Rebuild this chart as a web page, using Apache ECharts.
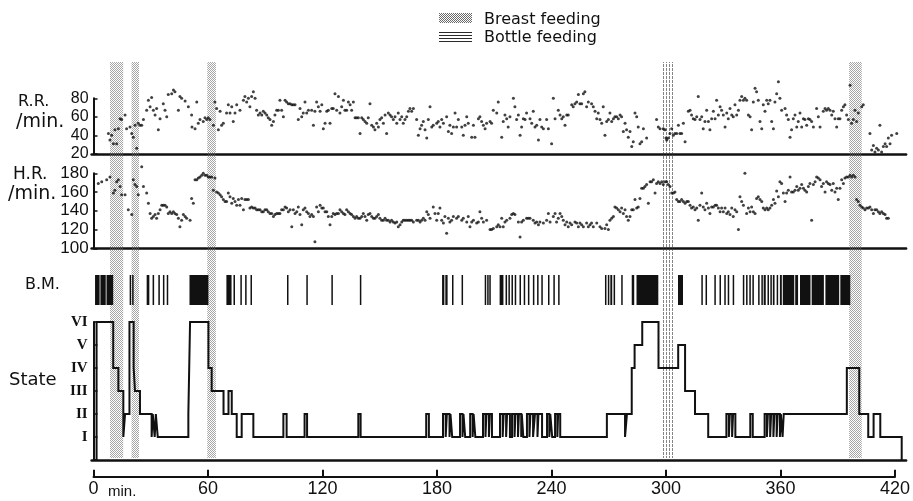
<!DOCTYPE html>
<html><head><meta charset="utf-8">
<script src="https://cdn.jsdelivr.net/npm/echarts@6/dist/echarts.min.js"></script>
<style>html,body{margin:0;padding:0;background:#fff}#c{width:913px;height:501px}</style>
</head><body><div id="c"></div>
<script>
// ---------- DATA ----------
const xTicks = [0, 60, 120, 180, 240, 300, 360, 420];
const stateLabels = ['', 'I', 'II', 'III', 'IV', 'V', 'VI'];
const breastBands = [[8.6,15.5],[19.9,23.8],[59.5,64.0],[395.2,401.8]];
const bottleBands = [[296.8,303.3]];

const rr = [
[7.8,42],[8.6,35],[9.5,40],[10.4,31],[11.2,46],[12.1,31],[13.0,47],[13.9,58],[14.7,57],[16.5,62],[17.3,47],[19.1,49],[20.0,42],[20.8,38],[21.7,51],[22.6,26],[23.4,53],[24.3,51],[25.2,51],[26.1,57],[27.8,67],[28.7,78],[29.6,71],[30.4,81],[31.3,67],[32.2,62],[33.0,69],[33.9,46],[34.8,58],[36.5,74],[37.4,67],[38.3,60],[39.1,84],[40.9,85],[41.8,89],[42.6,87],[44.4,67],[45.2,82],[46.1,80],[47.9,77],[49.6,71],[51.3,62],[51.5,49],[53.1,47],[54.0,76],[54.8,53],[55.7,57],[57.4,55],[58.3,59],[59.2,57],[60.0,59],[60.9,57],[62.7,51],[63.5,76],[64.4,69],[65.3,46],[66.2,66],[67.0,51],[67.9,53],[69.6,64],[70.5,73],[71.4,64],[72.3,71],[73.1,55],[74.0,64],[74.9,73],[76.6,67],[78.4,78],[79.2,82],[80.1,76],[81.0,80],[81.8,71],[82.7,82],[83.6,87],[84.5,80],[85.3,67],[86.2,62],[87.1,64],[88.0,62],[88.8,66],[89.7,64],[90.6,62],[91.4,59],[92.3,57],[93.2,51],[94.1,55],[94.9,62],[95.8,67],[96.7,67],[97.5,78],[98.4,67],[99.3,60],[100.2,78],[101.0,76],[101.9,74],[102.8,74],[103.7,73],[104.5,73],[105.4,73],[107.1,57],[108.0,69],[108.9,60],[109.7,64],[110.6,76],[111.5,64],[112.4,67],[114.1,67],[115.0,51],[115.8,66],[116.7,76],[117.6,71],[118.5,66],[119.4,73],[120.2,47],[121.1,53],[122.0,66],[122.8,67],[123.7,53],[124.6,69],[125.4,69],[126.3,85],[127.2,67],[128.1,82],[128.9,64],[129.8,71],[130.7,78],[131.5,67],[132.4,67],[133.3,76],[134.2,73],[135.0,67],[135.9,76],[136.8,59],[137.6,59],[138.5,59],[139.4,42],[140.3,59],[141.1,57],[142.0,55],[142.9,53],[143.7,59],[144.6,74],[145.5,51],[146.4,49],[147.2,46],[148.1,53],[149.0,49],[149.8,57],[150.7,59],[151.6,53],[152.5,62],[153.3,42],[154.2,64],[155.1,62],[155.9,60],[156.8,57],[157.7,60],[158.6,53],[159.4,64],[160.3,57],[161.2,60],[162.0,53],[162.9,57],[163.8,60],[164.7,66],[165.5,69],[166.4,66],[167.3,69],[169.0,57],[169.9,40],[170.8,47],[171.6,51],[172.5,55],[173.4,46],[174.3,37],[175.1,57],[176.0,71],[176.9,49],[177.7,51],[179.5,53],[180.3,55],[181.2,49],[182.1,57],[183.0,53],[184.7,60],[185.6,44],[186.4,51],[187.3,42],[188.2,49],[189.1,64],[189.9,49],[190.8,57],
[192.6,49],[193.4,40],[194.3,51],[195.2,60],[196.0,53],[197.8,38],[198.7,51],[199.5,38],[201.3,58],[202.1,60],[203.0,55],[203.9,51],[204.8,47],[205.6,53],[207.4,55],[208.2,53],[209.1,67],[210.9,64],[211.7,76],[213.5,38],[214.3,55],[215.2,62],[216.1,58],[216.9,49],[217.8,60],[219.6,80],[220.4,71],[221.3,57],[222.2,62],[223.1,40],[223.9,49],[224.8,58],[225.7,57],[226.5,64],[228.3,58],[229.2,53],[230.0,66],[230.9,49],[231.8,51],[232.7,35],[233.5,57],[234.4,49],[235.3,47],[237.0,57],[237.9,47],[239.6,31],[240.5,80],[241.4,58],[243.1,67],[244.0,62],[244.9,58],[245.7,60],[246.6,51],[247.5,62],[248.3,62],[250.1,73],[250.9,71],[251.8,74],[252.7,76],[253.6,84],[254.4,74],[255.3,74],[256.2,85],[257.0,87],[257.9,71],[258.8,76],[260.5,74],[261.4,71],[262.3,66],[263.2,58],[264.0,64],[264.9,57],[265.8,53],[266.6,71],[267.5,40],[268.4,55],[269.3,57],[270.1,64],[271.0,55],[271.9,58],[272.7,60],[273.6,60],[274.5,58],[275.4,62],[276.2,60],[277.1,44],[278.0,53],[278.8,46],[279.7,38],[280.6,44],[281.5,28],[282.3,33],[283.2,64],[284.1,60],[284.9,49],[285.8,31],[286.7,33],[287.6,47],[289.3,37],[294.5,57],[295.4,49],[296.3,47],[298.0,47],[298.9,46],[299.4,37],[299.8,35],[300.6,37],[301.5,42],[302.4,47],[303.3,40],[304.1,42],[305.0,42],[305.9,51],[306.7,42],[307.6,42],[308.5,53],[309.4,33],[311.1,66],[312.0,67],[312.8,62],[313.7,58],[314.6,57],[315.5,60],[316.3,82],[317.2,57],[318.1,60],[318.9,47],[319.8,55],[320.7,67],[321.6,55],[322.4,46],[323.3,58],[324.2,66],[325.1,58],[325.9,78],[326.8,62],[327.7,71],[328.5,67],[329.4,62],[330.3,49],[331.2,64],[332.0,58],[332.9,69],[333.8,62],[334.6,60],[335.5,73],[336.4,62],[337.3,67],[338.1,78],[339.0,82],[339.9,78],[340.7,80],[341.6,78],[342.5,62],[343.4,60],[344.2,46],[345.1,76],[346.0,91],[346.8,87],[347.7,78],[348.6,55],[349.5,47],[350.3,73],[351.2,66],[352.1,78],[352.9,74],[353.8,78],[354.7,55],[355.6,47],[356.4,76],[357.3,85],[358.2,98],[359.0,80],[359.9,67],[361.7,69],[362.5,62],[363.4,57],[364.3,38],[365.1,46],[366.0,58],[366.9,62],[367.8,49],[368.6,55],[369.5,64],[370.4,49],[371.3,58],[372.1,57],[373.0,51],[373.9,58],[374.7,57],[375.6,55],[376.5,49],[378.2,69],[379.1,60],[380.0,49],[381.7,66],[382.6,69],[383.4,67],[384.3,69],[385.2,67],[386.1,62],[386.9,66],[387.8,58],[388.7,49],[389.5,58],[390.4,58],[391.3,67],[392.2,71],[393.0,73],[393.9,62],[394.8,57],[395.7,94],[396.5,53],[397.4,57],[398.3,67],[399.1,55],[400.0,64],[401.8,71],[402.6,73],[406.1,42],[407.0,24],[407.9,29],[408.7,22],[409.6,26],[410.5,24],[411.3,51],[412.2,22],[413.1,28],[414.0,31],[414.8,28],[415.7,37],[416.6,31],[417.4,40],[420.1,42]
];

const hr = [
[2.5,169],[4.3,171],[6.9,173],[8.6,176],[10.4,159],[11.2,162],[12.1,171],[13.0,173],[13.9,166],[14.7,157],[16.5,157],[18.2,141],[20.0,136],[20.8,173],[21.7,168],[22.6,166],[23.4,157],[25.2,187],[26.1,166],[27.8,159],[28.7,148],[29.6,137],[30.4,132],[31.3,134],[32.2,136],[33.0,132],[33.9,137],[34.8,141],[35.7,146],[36.5,146],[37.4,146],[38.3,144],[39.1,137],[40.0,139],[40.9,137],[41.8,139],[42.6,137],[43.5,136],[44.4,132],[45.2,123],[46.1,130],[47.0,136],[47.9,134],[48.7,132],[50.5,130],[51.3,153],[52.2,148],[53.1,173],[54.0,173],[54.8,175],[55.7,176],[56.6,178],[57.4,180],[58.3,178],[59.2,178],[60.0,176],[60.9,176],[61.8,176],[62.7,162],[63.5,175],[64.4,160],[65.3,159],[66.2,157],[67.0,155],[67.9,152],[68.8,150],[69.6,150],[70.5,159],[71.4,155],[72.3,148],[73.1,153],[74.0,150],[74.9,146],[75.8,152],[76.6,146],[77.5,153],[78.4,141],[79.2,152],[80.1,152],[81.0,152],[81.8,143],[82.7,144],[83.6,143],[84.5,143],[85.3,141],[86.2,141],[87.1,141],[88.0,139],[88.8,139],[89.7,141],[90.6,141],[91.4,139],[92.3,137],[93.2,137],[94.1,134],[94.9,136],[95.8,137],[96.7,137],[97.5,137],[98.4,141],[99.3,141],[100.2,144],[101.0,143],[101.9,139],[102.8,141],[103.7,123],[104.5,141],[105.4,137],[106.3,139],[107.1,144],[108.0,136],[108.9,125],[109.7,141],[110.6,143],[111.5,139],[112.4,137],[113.2,134],[114.1,136],[115.0,134],[115.8,107],[116.7,144],[117.6,139],[118.5,146],[119.4,143],[120.2,143],[121.1,139],[122.0,139],[122.8,134],[123.7,125],[124.6,134],[125.4,137],[126.3,136],[127.2,137],[128.1,137],[128.9,141],[129.8,139],[130.7,137],[131.5,136],[132.4,141],[133.3,139],[134.2,137],[135.0,136],[135.9,134],[136.8,132],[137.6,134],[138.5,132],[139.4,132],[140.3,134],[141.1,137],[142.0,134],[142.9,130],[143.7,136],[144.6,137],[145.5,134],[146.4,132],[147.2,132],[148.1,134],[149.0,136],[149.8,132],[150.7,130],[151.6,130],[152.5,132],[153.3,130],[154.2,130],[155.1,128],[155.9,130],[156.8,128],[157.7,127],[158.6,128],[159.4,123],[160.3,125],[161.2,128],[162.0,130],[162.9,130],[163.8,130],[164.7,130],[165.5,130],[166.4,130],[167.3,128],[169.0,130],[169.9,130],[170.8,128],[171.6,130],[172.5,132],[173.4,130],[174.3,139],[175.1,136],[176.0,132],[177.7,144],[178.6,137],[179.5,130],[180.3,137],[181.2,143],[182.1,130],[183.0,127],[183.8,134],[184.7,116],[185.6,132],[186.4,128],[187.3,130],[188.2,134],[189.9,132],[190.8,134],
[192.6,130],[193.4,132],[195.2,128],[196.0,134],[196.9,123],[197.8,128],[198.7,130],[200.4,127],[201.3,128],[202.1,139],[203.0,132],[203.9,128],[205.6,130],[207.4,120],[208.2,120],[209.1,121],[210.9,123],[211.7,125],[212.6,123],[213.5,132],[214.3,123],[215.2,128],[216.1,130],[217.8,132],[218.7,136],[219.6,137],[220.4,136],[222.2,128],[223.1,112],[223.9,128],[224.8,130],[226.5,132],[227.4,132],[228.3,132],[230.0,130],[230.9,127],[231.8,128],[232.7,125],[233.5,128],[235.3,127],[237.0,130],[237.9,137],[238.8,128],[240.5,134],[241.4,137],[242.2,128],[243.1,132],[244.0,137],[244.9,134],[245.7,130],[246.6,125],[247.5,128],[248.3,123],[249.2,127],[250.1,125],[251.8,128],[252.7,127],[253.6,123],[254.4,127],[255.3,125],[256.2,123],[257.9,127],[258.8,123],[259.7,125],[260.5,127],[261.4,123],[263.2,127],[264.9,123],[265.8,121],[267.5,121],[268.4,125],[269.3,120],[270.1,130],[271.0,132],[271.9,134],[272.7,144],[273.6,143],[274.5,141],[275.4,139],[276.2,143],[277.1,137],[278.0,141],[278.8,134],[279.7,130],[280.6,134],[281.5,141],[282.3,141],[283.2,152],[284.1,143],[284.9,144],[285.8,153],[286.7,164],[287.6,164],[288.4,166],[289.3,168],[290.2,148],[291.1,171],[291.9,171],[292.8,173],[293.7,159],[294.5,169],[295.4,171],[296.3,169],[297.2,171],[298.0,168],[298.9,171],[299.8,171],[300.6,168],[301.5,166],[302.4,159],[303.3,159],[304.1,160],[305.0,152],[305.9,150],[306.7,150],[307.6,152],[308.5,150],[309.4,148],[310.3,150],[311.1,150],[312.0,146],[312.8,143],[313.7,144],[314.6,141],[315.5,143],[316.3,130],[317.2,146],[318.1,159],[318.9,144],[319.8,141],[320.7,148],[321.6,143],[322.4,137],[323.3,144],[324.2,144],[325.1,146],[325.9,146],[326.8,143],[327.7,139],[328.5,143],[329.4,139],[330.3,143],[331.2,137],[332.0,139],[332.9,136],[333.8,143],[334.6,134],[335.5,141],[336.4,139],[337.3,120],[338.1,155],[339.0,150],[339.9,146],[340.7,180],[341.6,137],[342.5,143],[343.4,139],[344.2,144],[345.1,139],[346.0,137],[346.8,153],[347.7,155],[348.6,152],[349.5,150],[350.3,143],[351.2,141],[352.1,143],[352.9,141],[353.8,143],[354.7,146],[355.6,152],[356.4,148],[357.3,161],[358.2,155],[359.0,171],[359.9,169],[360.8,159],[361.7,150],[362.5,159],[363.4,162],[364.3,176],[365.1,160],[366.0,160],[366.9,162],[367.8,166],[368.6,162],[369.5,164],[370.4,168],[371.3,164],[372.1,162],[373.0,160],[373.9,166],[374.7,169],[375.6,130],[376.5,168],[377.4,171],[378.2,176],[379.1,175],[380.0,173],[380.8,166],[381.7,169],[382.6,160],[383.4,171],[384.3,169],[385.2,168],[386.1,162],[386.9,169],[387.8,160],[388.7,164],[389.5,152],[390.4,164],[391.3,173],[392.2,169],[393.0,175],[393.9,176],[394.8,176],[395.7,178],[396.5,176],[397.4,178],[398.3,176],[399.1,152],[400.0,150],[400.9,146],[401.8,144],[402.6,143],[403.5,141],[404.4,143],[405.3,143],[406.1,144],[407.0,141],[407.9,137],[408.7,141],[409.6,141],[410.5,139],[411.3,137],[412.2,139],[413.1,137],[414.0,136],[414.8,132],[415.7,132]
];

// body movements: [start, end] in minutes
const bm = [
[0.8,3.2],[3.6,6.4],[6.8,10.3],[18.9,19.3],[20.2,20.6],[27.8,29.2],[30.9,31.7],[33.9,34.7],[36.3,36.9],[38.3,39.0],
[50.2,60.1],[69.5,72.2],[73.2,74.0],[76.8,77.5],[79.3,79.8],[82.1,82.7],[101.2,101.7],[111.3,111.8],[124.4,124.9],[139.3,139.8],
[182.3,183.5],[184.0,185.2],[187.5,188.0],[192.5,193.0],[204.6,205.1],[205.9,206.4],[207.0,207.5],
[212.4,214.4],[215.5,216.3],[217.0,217.6],[218.6,219.2],[220.3,220.8],[222.8,223.3],[225.0,225.5],[227.2,227.7],[229.8,230.3],[232.0,232.5],[234.2,234.7],[237.7,238.2],[240.5,241.0],[243.0,243.5],
[267.5,268.2],[269.0,269.6],[270.3,271.3],[272.0,272.8],[276.0,276.6],[281.5,282.8],[284.0,295.4],[305.7,308.3],
[317.9,318.4],[320.1,320.6],[324.7,325.2],[327.4,327.8],[329.9,330.4],[331.7,332.1],[334.3,334.8],[339.6,340.1],[341.3,341.8],[343.0,343.5],[344.6,345.1],
[347.6,348.1],[349.3,349.8],[350.5,351.6],[352.5,353.0],[354.0,354.5],[355.3,356.2],[357.3,357.8],[359.0,360.0],
[360.5,366.5],[367.0,368.5],[369.5,375.0],[375.6,382.0],[382.8,390.0],[390.6,395.8]
];

// behavioural state: [time, level], level holds until next time (I=1 ... VI=6)
const stateSteps = [
[0,0],[1.6,6],[10.3,4],[13.0,3],[15.6,1],[16.5,2],[18.8,6],[21.0,4],[21.7,3],[24.3,2],[30.4,1],[31.0,2],[32.0,1],[32.6,2],[33.6,1],[49.6,2],[50.5,6],[60.1,4],[61.8,3],[68.0,2],[70.6,3],[72.3,2],[74.9,1],[77.5,2],[83.6,1],[99.3,2],[101.0,1],[110.4,2],[111.7,1],[138.5,2],[139.7,1],[174.0,2],[175.4,1],
[182.8,2],[184.2,1],[184.8,2],[186.2,1],[186.7,2],[187.6,1],
[191.7,2],[193.0,1],[193.5,2],[194.4,1],
[197.0,2],[198.3,1],[198.8,2],[199.7,1],
[203.7,2],[205.0,1],[205.5,2],[206.8,1],[207.3,2],[208.4,1],
[212.6,2],[214.0,1],[214.5,2],[215.8,1],[216.3,2],[217.8,1],
[218.9,2],[220.2,1],[220.7,2],[222.0,1],[222.5,2],[223.7,1],[224.0,2],[224.8,1],
[226.7,2],[228.0,1],[228.5,2],[229.9,1],
[230.9,2],[232.2,1],[232.7,2],[234.6,1],
[237.2,2],[238.4,1],[238.9,2],[239.9,1],
[241.4,2],[242.6,1],[243.0,2],[244.1,1],
[268.5,2],[278.0,1],[279.0,2],[281.5,4],[283.0,5],[287.0,6],[295.5,4],[305.8,5],[309.4,3],[314.6,2],[321.5,1],
[331.0,2],[332.3,1],[332.8,2],[334.0,1],[334.5,2],[335.7,1],[343.5,2],[344.8,1],
[351.0,2],[352.2,1],[352.7,2],[353.9,1],[354.4,2],[355.6,1],[356.1,2],[357.3,1],[357.8,2],[359.0,1],[359.5,2],[360.4,1],
[361.0,2],[394.0,4],[400.5,2],[405.2,1],[408.0,2],[411.5,1],[422.7,0]
];

// ---------- PATTERNS ----------
function pattern(kind){
  const c = document.createElement('canvas');
  const g = c.getContext('2d');
  if (kind === 'dots') {
    c.width = 4; c.height = 4;
    g.fillStyle = '#6a6a6a';
    [[0,0],[2,0],[1,1],[3,1],[0,2],[2,2],[1,3],[3,3]].forEach(p => g.fillRect(p[0], p[1], 1, 1));
  } else if (kind === 'vstripe') {
    c.width = 3; c.height = 4;
    g.fillStyle = '#333';
    g.fillRect(0,0,1,3);
  } else {
    c.width = 4; c.height = 3;
    g.fillStyle = '#2a2a2a';
    g.fillRect(0,0,4,1);
  }
  return {image: c, repeat: 'repeat'};
}
const dotFill = pattern('dots');
const vFill = pattern('vstripe');
const hFill = pattern('hstripe');

const bandData = breastBands.map(b => [b[0], b[1], 0]).concat(bottleBands.map(b => [b[0], b[1], 1]));

// ---------- CHART ----------
const chart = echarts.init(document.getElementById('c'), null, {renderer: 'canvas'});
const PL = 91.6, PW = 814.5;
const FONT = 'Liberation Sans';
const black = '#111';
const panelX = (i) => ({gridIndex: i, type: 'value', min: -1, max: 425, axisLine: {show: true, onZero: false, lineStyle: {color: black, width: 2.5}}, axisTick: {show: false}, axisLabel: {show: false}, splitLine: {show: false}});
const hiddenX = (i) => ({gridIndex: i, type: 'value', min: -1, max: 425, show: false});

chart.setOption({
  animation: false,
  backgroundColor: '#fff',
  grid: [
    {left: PL, width: PW, top: 98.3, height: 55.5},   // RR
    {left: PL, width: PW, top: 173.3, height: 75},    // HR
    {left: PL, width: PW, top: 275, height: 30},      // BM
    {left: PL, width: PW, top: 322, height: 138},     // State
    {left: 93.5, width: 803.2, top: 470, height: 6.7},// time axis
    {left: PL, width: PW, top: 62, height: 396}       // feeding bands
  ],
  xAxis: [
    panelX(0), panelX(1), hiddenX(2), panelX(3),
    {gridIndex: 4, type: 'value', min: 0, max: 420, interval: 60,
     axisLine: {show: true, lineStyle: {color: black, width: 2}},
     axisTick: {show: true, inside: true, length: 7, lineStyle: {color: black, width: 2}},
     axisLabel: {margin: 3, color: black, fontSize: 18, fontFamily: FONT, formatter: v => xTicks.indexOf(v) >= 0 ? String(v) : ''},
     splitLine: {show: false}},
    hiddenX(5)
  ],
  yAxis: [
    {gridIndex: 0, type: 'value', min: 20, max: 80, interval: 20,
     axisLine: {show: true, lineStyle: {color: black, width: 2}},
     axisTick: {show: true, inside: true, length: 4, lineStyle: {color: black, width: 1.5}},
     axisLabel: {margin: 3, color: black, fontSize: 16, fontFamily: FONT},
     splitLine: {show: false}},
    {gridIndex: 1, type: 'value', min: 100, max: 180, interval: 20,
     axisLine: {show: true, lineStyle: {color: black, width: 2}},
     axisTick: {show: true, inside: true, length: 4, lineStyle: {color: black, width: 1.5}},
     axisLabel: {margin: 3, color: black, fontSize: 17, fontFamily: FONT},
     splitLine: {show: false}},
    {gridIndex: 2, type: 'value', min: 0, max: 1, show: false},
    {gridIndex: 3, type: 'value', min: 0, max: 6, interval: 1,
     axisLine: {show: true, lineStyle: {color: black, width: 2}},
     axisTick: {show: true, inside: true, length: 4, lineStyle: {color: black, width: 1.5}},
     axisLabel: {margin: 4, color: black, fontSize: 15, fontWeight: 'bold', fontFamily: 'Liberation Serif', formatter: v => stateLabels[v] || ''},
     splitLine: {show: false}},
    {gridIndex: 4, type: 'value', min: 0, max: 1, show: false},
    {gridIndex: 5, type: 'value', min: 0, max: 1, show: false}
  ],
  series: [
    {type: 'custom', xAxisIndex: 5, yAxisIndex: 5, z: 1, silent: true, data: bandData,
     encode: {x: [0, 1], y: 2},
     renderItem: function (params, api) {
       const a = api.coord([api.value(0), 1]);
       const b = api.coord([api.value(1), 0]);
       return {type: 'rect', shape: {x: a[0], y: a[1], width: b[0] - a[0], height: b[1] - a[1]},
               style: {fill: api.value(2) === 1 ? vFill : dotFill, opacity: 0.6}};
     }},
    {type: 'scatter', xAxisIndex: 0, yAxisIndex: 0, z: 3, clip: false, data: rr, symbol: 'circle', symbolSize: 3, itemStyle: {color: black}},
    {type: 'scatter', xAxisIndex: 1, yAxisIndex: 1, z: 3, clip: false, data: hr, symbol: 'circle', symbolSize: 3, itemStyle: {color: black}},
    {type: 'custom', xAxisIndex: 2, yAxisIndex: 2, z: 3, silent: true, data: bm.map(d => [d[0], d[1], 0]),
     encode: {x: [0, 1], y: 2},
     renderItem: function (params, api) {
       const a = api.coord([api.value(0), 1]);
       const b = api.coord([api.value(1), 0]);
       return {type: 'rect', shape: {x: a[0], y: a[1], width: Math.max(1.5, b[0] - a[0]), height: b[1] - a[1]}, style: {fill: black}};
     }},
    {type: 'line', xAxisIndex: 3, yAxisIndex: 3, z: 3, step: 'end', data: stateSteps, showSymbol: false, clip: false,
     lineStyle: {color: black, width: 2, join: 'miter'}}
  ],
  graphic: [
    {type: 'rect', left: 439, top: 13, shape: {width: 33, height: 10}, style: {fill: dotFill}},
    {type: 'rect', left: 439, top: 32, shape: {width: 33, height: 11}, style: {fill: hFill}},
    {type: 'text', left: 484, top: 12, style: {text: 'Breast feeding', fontSize: 16, fontFamily: 'DejaVu Sans', fill: black}},
    {type: 'text', left: 484, top: 30, style: {text: 'Bottle feeding', fontSize: 16, fontFamily: 'DejaVu Sans', fill: black}},
    {type: 'text', left: 18, top: 94, style: {text: 'R.R.', fontSize: 16, fontFamily: 'DejaVu Sans', fill: black}},
    {type: 'text', left: 16, top: 113, style: {text: '/min.', fontSize: 19, fontFamily: 'DejaVu Sans', fill: black}},
    {type: 'text', left: 13, top: 166, style: {text: 'H.R.', fontSize: 17, fontFamily: 'DejaVu Sans', fill: black}},
    {type: 'text', left: 8, top: 185, style: {text: '/min.', fontSize: 19, fontFamily: 'DejaVu Sans', fill: black}},
    {type: 'text', left: 25, top: 277, style: {text: 'B.M.', fontSize: 16, fontFamily: 'DejaVu Sans', fill: black}},
    {type: 'text', left: 9, top: 371, style: {text: 'State', fontSize: 18, fontFamily: 'DejaVu Sans', fill: black}},
    {type: 'text', left: 108, top: 484, style: {text: 'min.', fontSize: 15, fontFamily: FONT, fill: black}}
  ]
});
</script>
</body></html>
